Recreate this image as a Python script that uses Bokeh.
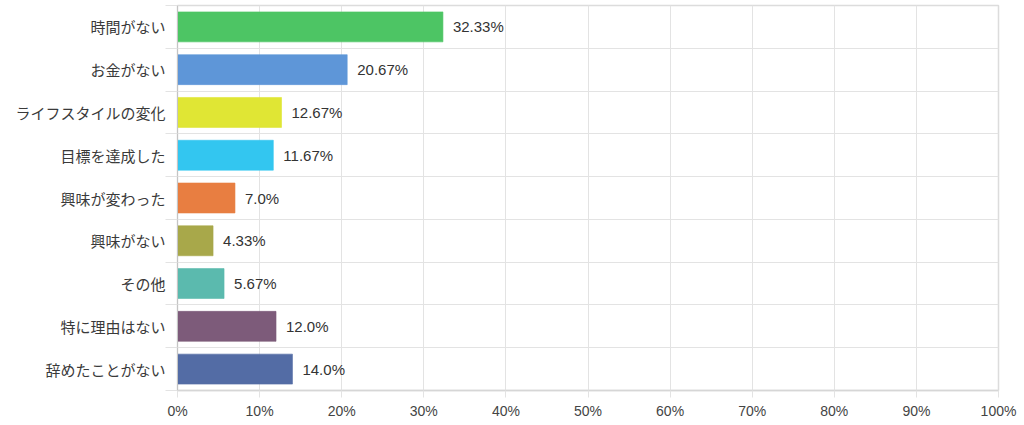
from bokeh.plotting import figure
from bokeh.models import Range1d, FixedTicker, PrintfTickFormatter, ColumnDataSource
from bokeh.core.properties import value
from bokeh.embed import file_html
from bokeh.resources import INLINE

categories = ["時間がない", "お金がない", "ライフスタイルの変化", "目標を達成した",
              "興味が変わった", "興味がない", "その他", "特に理由はない", "辞めたことがない"]
values = [32.33, 20.67, 12.67, 11.67, 7.0, 4.33, 5.67, 12.0, 14.0]
colors = ["#4dc564", "#5e96d8", "#e0e634", "#33c6f0", "#e87e41",
          "#a8a84a", "#5bbaae", "#7d5b7a", "#536ca5"]
x_ticks = list(range(0, 101, 10))

positions = list(range(1, len(categories) + 1))
labels = [f"{v}%" for v in values]

src = ColumnDataSource(dict(y=positions, v=values, c=colors, lab=labels))

p = figure(width=1024, height=425, output_backend="svg", toolbar_location=None,
           x_range=Range1d(0, 100), y_range=Range1d(len(categories) + 0.5, 0.5),
           min_border_left=177, min_border_right=26, min_border_top=5,
           min_border_bottom=35)
p.background_fill_color = "white"
p.border_fill_color = "white"
p.outline_line_color = "#dcdcdc"
p.outline_line_width = 1.5

# y axis: labels at centers, boundary ticks as minor ticks
yt = FixedTicker(ticks=positions, minor_ticks=[k + 0.5 for k in range(len(categories) + 1)])
p.yaxis.ticker = yt
p.ygrid.ticker = yt
p.yaxis.major_label_overrides = {pos: cat for pos, cat in zip(positions, categories)}
p.yaxis.major_tick_line_color = None
p.yaxis.minor_tick_in = 0
p.yaxis.minor_tick_out = 12
p.yaxis.minor_tick_line_color = "#e3e3e3"
p.yaxis.major_label_standoff = 0
p.yaxis.major_label_text_font = "Noto Sans CJK JP"
p.yaxis.major_label_text_font_size = "15px"
p.yaxis.major_label_text_color = "#3a3a3a"
p.yaxis.axis_line_color = "#c4c4c4"
p.ygrid.grid_line_color = None
p.ygrid.minor_grid_line_color = "#e3e3e3"

# x axis
xt = FixedTicker(ticks=x_ticks, minor_ticks=[])
p.xaxis.ticker = xt
p.xgrid.ticker = xt
p.xaxis.formatter = PrintfTickFormatter(format="%d%%")
p.xaxis.major_tick_in = 0
p.xaxis.major_tick_out = 7
p.xaxis.major_tick_line_color = "#e3e3e3"
p.xaxis.minor_tick_line_color = None
p.xaxis.major_label_standoff = 5
p.xaxis.major_label_text_font = "Liberation Sans"
p.xaxis.major_label_text_font_size = "14px"
p.xaxis.major_label_text_color = "#444444"
p.xaxis.axis_line_color = "#d6d6d6"
p.xaxis.axis_line_width = 1.5
p.xgrid.grid_line_color = "#e3e3e3"

p.hbar(y="y", left=0, right="v", height=0.7, source=src,
       fill_color="c", fill_alpha=1.0, line_color="c", line_alpha=0.6, line_width=1)

p.text(x="v", y="y", text="lab", source=src, x_offset=10,
       text_align="left", text_baseline="middle",
       text_font=value("Liberation Sans"), text_font_size="15px", text_color="#333333")

open("out.html", "w").write(file_html(p, INLINE))
